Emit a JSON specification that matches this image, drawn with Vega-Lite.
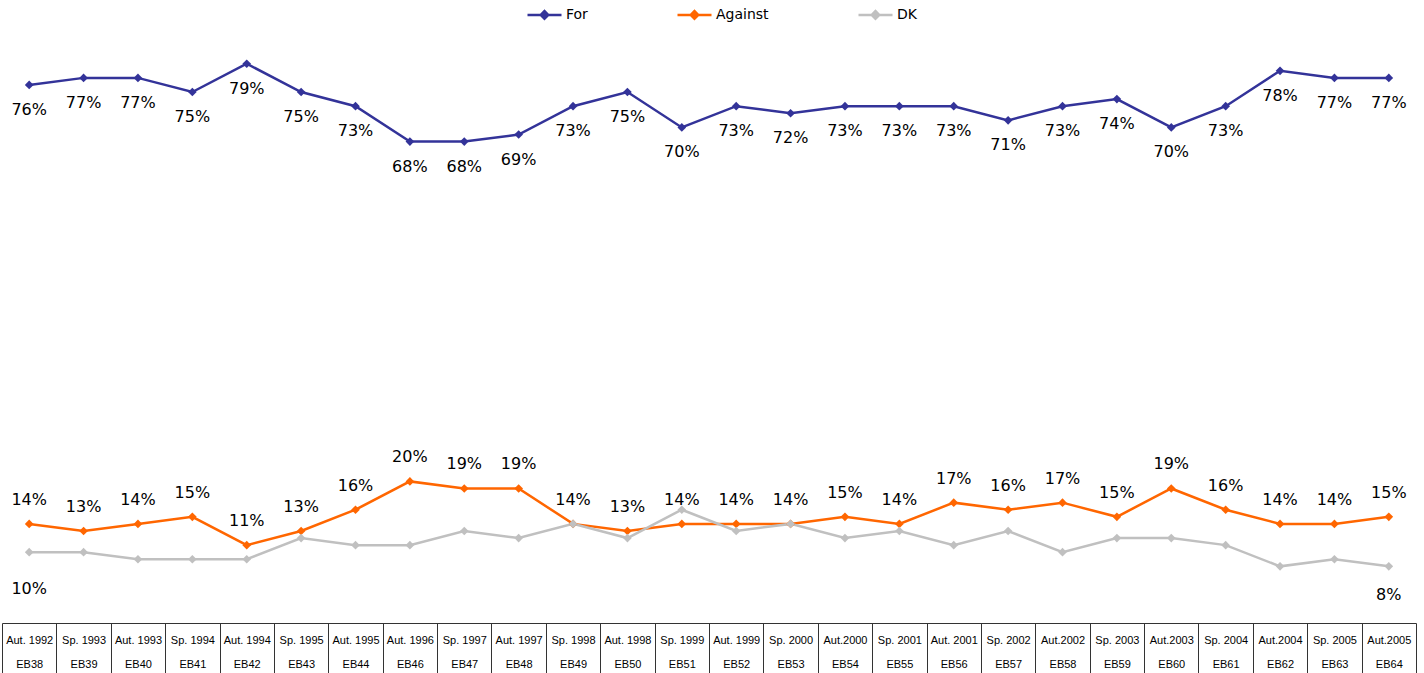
{
  "$schema": "https://vega.github.io/schema/vega-lite/v6.json",
  "width": 1414,
  "height": 623,
  "autosize": {"type": "none"},
  "padding": {"left": 2, "top": 0, "right": 8, "bottom": 50},
  "background": "white",
  "config": {"view": {"stroke": null}},
  "data": {"values": [
    {"period": "Aut. 1992", "eb": "EB38", "series": "For", "value": 76},
    {"period": "Sp. 1993", "eb": "EB39", "series": "For", "value": 77},
    {"period": "Aut. 1993", "eb": "EB40", "series": "For", "value": 77},
    {"period": "Sp. 1994", "eb": "EB41", "series": "For", "value": 75},
    {"period": "Aut. 1994", "eb": "EB42", "series": "For", "value": 79},
    {"period": "Sp. 1995", "eb": "EB43", "series": "For", "value": 75},
    {"period": "Aut. 1995", "eb": "EB44", "series": "For", "value": 73},
    {"period": "Aut. 1996", "eb": "EB46", "series": "For", "value": 68},
    {"period": "Sp. 1997", "eb": "EB47", "series": "For", "value": 68},
    {"period": "Aut. 1997", "eb": "EB48", "series": "For", "value": 69},
    {"period": "Sp. 1998", "eb": "EB49", "series": "For", "value": 73},
    {"period": "Aut. 1998", "eb": "EB50", "series": "For", "value": 75},
    {"period": "Sp. 1999", "eb": "EB51", "series": "For", "value": 70},
    {"period": "Aut. 1999", "eb": "EB52", "series": "For", "value": 73},
    {"period": "Sp. 2000", "eb": "EB53", "series": "For", "value": 72},
    {"period": "Aut.2000", "eb": "EB54", "series": "For", "value": 73},
    {"period": "Sp. 2001", "eb": "EB55", "series": "For", "value": 73},
    {"period": "Aut. 2001", "eb": "EB56", "series": "For", "value": 73},
    {"period": "Sp. 2002", "eb": "EB57", "series": "For", "value": 71},
    {"period": "Aut.2002", "eb": "EB58", "series": "For", "value": 73},
    {"period": "Sp. 2003", "eb": "EB59", "series": "For", "value": 74},
    {"period": "Aut.2003", "eb": "EB60", "series": "For", "value": 70},
    {"period": "Sp. 2004", "eb": "EB61", "series": "For", "value": 73},
    {"period": "Aut.2004", "eb": "EB62", "series": "For", "value": 78},
    {"period": "Sp. 2005", "eb": "EB63", "series": "For", "value": 77},
    {"period": "Aut.2005", "eb": "EB64", "series": "For", "value": 77},
    {"period": "Aut. 1992", "eb": "EB38", "series": "Against", "value": 14},
    {"period": "Sp. 1993", "eb": "EB39", "series": "Against", "value": 13},
    {"period": "Aut. 1993", "eb": "EB40", "series": "Against", "value": 14},
    {"period": "Sp. 1994", "eb": "EB41", "series": "Against", "value": 15},
    {"period": "Aut. 1994", "eb": "EB42", "series": "Against", "value": 11},
    {"period": "Sp. 1995", "eb": "EB43", "series": "Against", "value": 13},
    {"period": "Aut. 1995", "eb": "EB44", "series": "Against", "value": 16},
    {"period": "Aut. 1996", "eb": "EB46", "series": "Against", "value": 20},
    {"period": "Sp. 1997", "eb": "EB47", "series": "Against", "value": 19},
    {"period": "Aut. 1997", "eb": "EB48", "series": "Against", "value": 19},
    {"period": "Sp. 1998", "eb": "EB49", "series": "Against", "value": 14},
    {"period": "Aut. 1998", "eb": "EB50", "series": "Against", "value": 13},
    {"period": "Sp. 1999", "eb": "EB51", "series": "Against", "value": 14},
    {"period": "Aut. 1999", "eb": "EB52", "series": "Against", "value": 14},
    {"period": "Sp. 2000", "eb": "EB53", "series": "Against", "value": 14},
    {"period": "Aut.2000", "eb": "EB54", "series": "Against", "value": 15},
    {"period": "Sp. 2001", "eb": "EB55", "series": "Against", "value": 14},
    {"period": "Aut. 2001", "eb": "EB56", "series": "Against", "value": 17},
    {"period": "Sp. 2002", "eb": "EB57", "series": "Against", "value": 16},
    {"period": "Aut.2002", "eb": "EB58", "series": "Against", "value": 17},
    {"period": "Sp. 2003", "eb": "EB59", "series": "Against", "value": 15},
    {"period": "Aut.2003", "eb": "EB60", "series": "Against", "value": 19},
    {"period": "Sp. 2004", "eb": "EB61", "series": "Against", "value": 16},
    {"period": "Aut.2004", "eb": "EB62", "series": "Against", "value": 14},
    {"period": "Sp. 2005", "eb": "EB63", "series": "Against", "value": 14},
    {"period": "Aut.2005", "eb": "EB64", "series": "Against", "value": 15},
    {"period": "Aut. 1992", "eb": "EB38", "series": "DK", "value": 10},
    {"period": "Sp. 1993", "eb": "EB39", "series": "DK", "value": 10},
    {"period": "Aut. 1993", "eb": "EB40", "series": "DK", "value": 9},
    {"period": "Sp. 1994", "eb": "EB41", "series": "DK", "value": 9},
    {"period": "Aut. 1994", "eb": "EB42", "series": "DK", "value": 9},
    {"period": "Sp. 1995", "eb": "EB43", "series": "DK", "value": 12},
    {"period": "Aut. 1995", "eb": "EB44", "series": "DK", "value": 11},
    {"period": "Aut. 1996", "eb": "EB46", "series": "DK", "value": 11},
    {"period": "Sp. 1997", "eb": "EB47", "series": "DK", "value": 13},
    {"period": "Aut. 1997", "eb": "EB48", "series": "DK", "value": 12},
    {"period": "Sp. 1998", "eb": "EB49", "series": "DK", "value": 14},
    {"period": "Aut. 1998", "eb": "EB50", "series": "DK", "value": 12},
    {"period": "Sp. 1999", "eb": "EB51", "series": "DK", "value": 16},
    {"period": "Aut. 1999", "eb": "EB52", "series": "DK", "value": 13},
    {"period": "Sp. 2000", "eb": "EB53", "series": "DK", "value": 14},
    {"period": "Aut.2000", "eb": "EB54", "series": "DK", "value": 12},
    {"period": "Sp. 2001", "eb": "EB55", "series": "DK", "value": 13},
    {"period": "Aut. 2001", "eb": "EB56", "series": "DK", "value": 11},
    {"period": "Sp. 2002", "eb": "EB57", "series": "DK", "value": 13},
    {"period": "Aut.2002", "eb": "EB58", "series": "DK", "value": 10},
    {"period": "Sp. 2003", "eb": "EB59", "series": "DK", "value": 12},
    {"period": "Aut.2003", "eb": "EB60", "series": "DK", "value": 12},
    {"period": "Sp. 2004", "eb": "EB61", "series": "DK", "value": 11},
    {"period": "Aut.2004", "eb": "EB62", "series": "DK", "value": 8},
    {"period": "Sp. 2005", "eb": "EB63", "series": "DK", "value": 9},
    {"period": "Aut.2005", "eb": "EB64", "series": "DK", "value": 8}
  ]},
  "transform": [
    {"calculate": "datum.period + '|' + datum.eb", "as": "wave"},
    {"calculate": "datum.value + '%'", "as": "label"}
  ],
  "encoding": {
    "x": {
      "field": "wave", "type": "nominal", "sort": null,
      "scale": {"type": "band", "paddingInner": 0, "paddingOuter": 0},
      "axis": {
        "title": null, "grid": false,
        "domain": true, "domainColor": "#333333", "domainWidth": 1,
        "ticks": true, "tickBand": "extent", "tickSize": 50, "tickColor": "#333333", "tickWidth": 1,
        "labelExpr": "isString(datum.value) ? split(datum.value, '|') : ''",
        "labelFont": "Liberation Sans", "labelFontSize": 11, "labelColor": "black",
        "labelLineHeight": 24, "labelPadding": -39, "labelAngle": 0, "labelBaseline": "top",
        "labelOverlap": false, "labelBound": false, "labelFlush": false
      }
    },
    "y": {
      "field": "value", "type": "quantitative",
      "scale": {"domain": [0, 88], "nice": false, "zero": true},
      "axis": null
    }
  },
  "layer": [
    {
      "mark": {"type": "line", "strokeWidth": 2.5, "point": {"shape": "diamond", "size": 75, "filled": true}},
      "encoding": {
        "color": {
          "field": "series", "type": "nominal", "sort": null,
          "scale": {"domain": ["For", "Against", "DK"], "range": ["#333399", "#FF6600", "#C0C0C0"]},
          "legend": {
            "title": null, "orient": "none", "legendX": 524, "legendY": -4,
            "direction": "horizontal", "columnPadding": 84, "padding": 0,
            "symbolType": "M-1,0H1M-0.22,0L0,-0.22L0.22,0L0,0.22Z",
            "symbolSize": 1156, "symbolStrokeWidth": 2.5,
            "labelFont": "DejaVu Sans", "labelFontSize": 14, "labelColor": "black", "labelOffset": 3,
            "encode": {"symbols": {"update": {
              "fill": {"scale": "color", "field": "value"},
              "stroke": {"scale": "color", "field": "value"},
              "opacity": {"value": 1}
            }}}
          }
        }
      }
    },
    {
      "transform": [{"filter": "datum.series === 'For'"}],
      "mark": {"type": "text", "dy": 25, "font": "DejaVu Sans", "fontSize": 16, "color": "black"},
      "encoding": {"text": {"field": "label", "type": "nominal"}}
    },
    {
      "transform": [{"filter": "datum.series === 'Against'"}],
      "mark": {"type": "text", "dy": -24, "font": "DejaVu Sans", "fontSize": 16, "color": "black"},
      "encoding": {"text": {"field": "label", "type": "nominal"}}
    },
    {
      "transform": [{"filter": "datum.series === 'DK' && datum.eb === 'EB38'"}],
      "mark": {"type": "text", "dy": 37, "font": "DejaVu Sans", "fontSize": 16, "color": "black"},
      "encoding": {"text": {"field": "label", "type": "nominal"}}
    },
    {
      "transform": [{"filter": "datum.series === 'DK' && datum.eb === 'EB64'"}],
      "mark": {"type": "text", "dy": 29, "font": "DejaVu Sans", "fontSize": 16, "color": "black"},
      "encoding": {"text": {"field": "label", "type": "nominal"}}
    }
  ]
}
